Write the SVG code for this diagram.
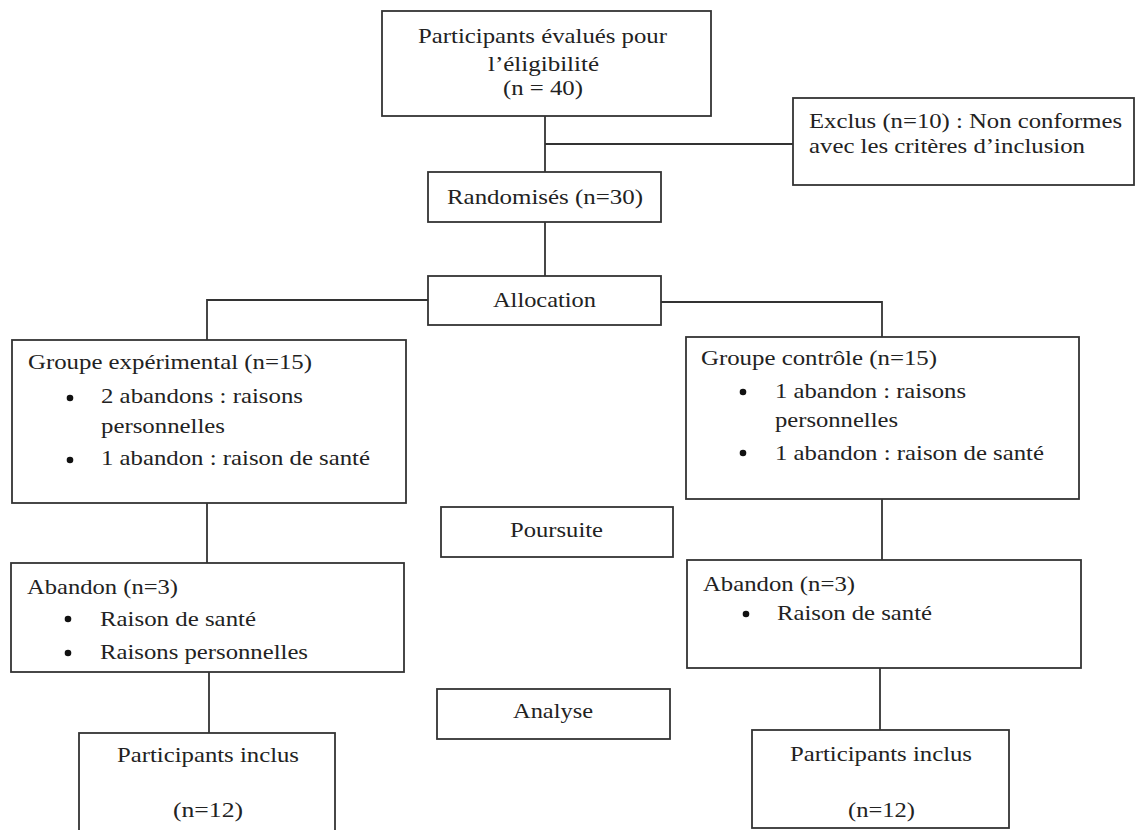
<svg xmlns="http://www.w3.org/2000/svg" width="1137" height="830" viewBox="0 0 1137 830" font-family="Liberation Serif, Tinos, Times New Roman, Times, serif">
<style>
.box{fill:#fff;stroke:#333;stroke-width:1.8}
.ln{fill:none;stroke:#333;stroke-width:1.8}
.bul{fill:#111}
text{font-family:'Liberation Serif',Tinos,'Times New Roman',Times,serif;font-size:21px;fill:#222}
</style>
<rect width="1137" height="830" fill="#fff"/>
<g id="connectors">
<path class="ln" d="M545 116V172M545 144H793M545 222V276M428 300H207V340M661 302H882V337M207 503V563M209 672V733M882 499V560M880 668V730"/>
</g>
<g id="eligibility">
<rect class="box" x="382" y="11" width="329" height="105"/>
<text x="418" y="43" textLength="249" lengthAdjust="spacingAndGlyphs">Participants évalués pour</text>
<text x="488" y="71" textLength="111" lengthAdjust="spacingAndGlyphs">l’éligibilité</text>
<text x="503" y="95" textLength="80" lengthAdjust="spacingAndGlyphs">(n = 40)</text>
</g>
<g id="excluded">
<rect class="box" x="793" y="98" width="341" height="87"/>
<text x="809" y="128" textLength="313" lengthAdjust="spacingAndGlyphs">Exclus (n=10) : Non conformes</text>
<text x="809" y="153" textLength="276" lengthAdjust="spacingAndGlyphs">avec les critères d’inclusion</text>
</g>
<g id="randomised">
<rect class="box" x="428" y="172" width="233" height="50"/>
<text x="447" y="204" textLength="196" lengthAdjust="spacingAndGlyphs">Randomisés (n=30)</text>
</g>
<g id="allocation">
<rect class="box" x="428" y="276" width="233" height="49"/>
<text x="493" y="307" textLength="103" lengthAdjust="spacingAndGlyphs">Allocation</text>
</g>
<g id="group-exp">
<rect class="box" x="12" y="340" width="394" height="163"/>
<text x="28" y="369" textLength="284" lengthAdjust="spacingAndGlyphs">Groupe expérimental (n=15)</text>
<circle class="bul" cx="70" cy="398" r="3.3"/>
<text x="101" y="403" textLength="202" lengthAdjust="spacingAndGlyphs">2 abandons : raisons</text>
<text x="101" y="433" textLength="124" lengthAdjust="spacingAndGlyphs">personnelles</text>
<circle class="bul" cx="70" cy="460" r="3.3"/>
<text x="101" y="465" textLength="269" lengthAdjust="spacingAndGlyphs">1 abandon : raison de santé</text>
</g>
<g id="group-ctrl">
<rect class="box" x="686" y="337" width="393" height="162"/>
<text x="701" y="365" textLength="236" lengthAdjust="spacingAndGlyphs">Groupe contrôle (n=15)</text>
<circle class="bul" cx="743" cy="392" r="3.3"/>
<text x="775" y="398" textLength="191" lengthAdjust="spacingAndGlyphs">1 abandon : raisons</text>
<text x="775" y="427" textLength="123" lengthAdjust="spacingAndGlyphs">personnelles</text>
<circle class="bul" cx="743" cy="453" r="3.3"/>
<text x="775" y="460" textLength="269" lengthAdjust="spacingAndGlyphs">1 abandon : raison de santé</text>
</g>
<g id="followup">
<rect class="box" x="441" y="507" width="232" height="50"/>
<text x="510" y="537" textLength="93" lengthAdjust="spacingAndGlyphs">Poursuite</text>
</g>
<g id="dropout-exp">
<rect class="box" x="11" y="563" width="393" height="109"/>
<text x="27" y="594" textLength="151" lengthAdjust="spacingAndGlyphs">Abandon (n=3)</text>
<circle class="bul" cx="68" cy="619" r="3.3"/>
<text x="100" y="626" textLength="156" lengthAdjust="spacingAndGlyphs">Raison de santé</text>
<circle class="bul" cx="68" cy="653" r="3.3"/>
<text x="100" y="659" textLength="208" lengthAdjust="spacingAndGlyphs">Raisons personnelles</text>
</g>
<g id="dropout-ctrl">
<rect class="box" x="687" y="560" width="394" height="108"/>
<text x="703" y="591" textLength="152" lengthAdjust="spacingAndGlyphs">Abandon (n=3)</text>
<circle class="bul" cx="746" cy="614" r="3.3"/>
<text x="777" y="620" textLength="155" lengthAdjust="spacingAndGlyphs">Raison de santé</text>
</g>
<g id="analysis">
<rect class="box" x="437" y="689" width="233" height="50"/>
<text x="513" y="718" textLength="80" lengthAdjust="spacingAndGlyphs">Analyse</text>
</g>
<g id="included-exp">
<rect class="box" x="79" y="733" width="256" height="110"/>
<text x="117" y="762" textLength="182" lengthAdjust="spacingAndGlyphs">Participants inclus</text>
<text x="173" y="817" textLength="70" lengthAdjust="spacingAndGlyphs">(n=12)</text>
</g>
<g id="included-ctrl">
<rect class="box" x="752" y="730" width="257" height="98"/>
<text x="790" y="761" textLength="182" lengthAdjust="spacingAndGlyphs">Participants inclus</text>
<text x="848" y="817" textLength="67" lengthAdjust="spacingAndGlyphs">(n=12)</text>
</g>
</svg>
